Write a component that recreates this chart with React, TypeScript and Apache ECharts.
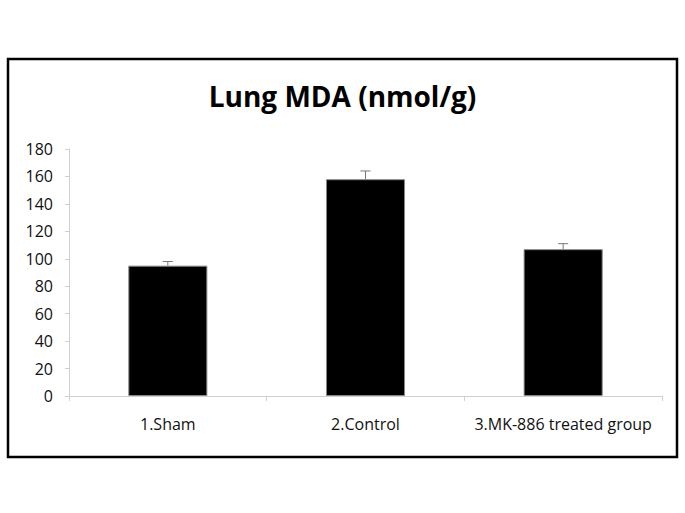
import React, { useEffect, useRef } from "react";
import * as echarts from "echarts";

const categories = ["1.Sham", "2.Control", "3.MK-886 treated group"];
const means = [95, 158, 107];
const upperErrors = [98, 164, 111];
const yTicks = { min: 0, max: 180, interval: 20 };

export default function App() {
  const ref = useRef<HTMLDivElement>(null);
  useEffect(() => {
    if (!ref.current) return;
    const chart = echarts.init(ref.current, null, { renderer: "svg" });
    const font = "Open Sans";
    chart.setOption({
      animation: false,
      backgroundColor: "#ffffff",
      title: {
        text: "Lung MDA (nmol/g)",
        left: "center",
        top: 77,
        textStyle: { fontFamily: font, fontWeight: "bold", fontSize: 28, color: "#000" },
      },
      graphic: [
        {
          type: "rect",
          shape: { x: 8, y: 59, width: 669, height: 398 },
          style: { fill: "none", stroke: "#000", lineWidth: 2.5 },
          z: 10,
        },
      ],
      grid: { left: 69, right: 23, top: 149, bottom: 117 },
      xAxis: {
        type: "category",
        data: categories,
        axisLine: { show: true, lineStyle: { color: "#d0d0d0", width: 1 } },
        axisTick: { show: true, length: 5, lineStyle: { color: "#d0d0d0" } },
        axisLabel: { interval: 0, fontFamily: font, fontSize: 16, color: "#111", margin: 20 },
      },
      yAxis: {
        type: "value",
        min: yTicks.min,
        max: yTicks.max,
        interval: yTicks.interval,
        axisLine: { show: true, lineStyle: { color: "#d0d0d0", width: 1 } },
        axisTick: { show: true, length: 4, lineStyle: { color: "#d0d0d0" } },
        splitLine: { show: false },
        axisLabel: { fontFamily: font, fontSize: 16, color: "#111", margin: 16 },
      },
      series: [
        {
          type: "bar",
          data: means,
          barWidth: "40%",
          itemStyle: { color: "#000", borderColor: "#888", borderWidth: 1 },
        },
        {
          type: "custom",
          data: means.map((m, i) => [i, m, upperErrors[i]]),
          renderItem: (params: any, api: any) => {
            const x = api.value(0);
            const p0 = api.coord([x, api.value(1)]);
            const p1 = api.coord([x, api.value(2)]);
            const w = 5;
            return {
              type: "group",
              children: [
                { type: "line", shape: { x1: p0[0], y1: p0[1], x2: p1[0], y2: p1[1] }, style: { stroke: "#777", lineWidth: 1 } },
                { type: "line", shape: { x1: p1[0] - w, y1: p1[1], x2: p1[0] + w, y2: p1[1] }, style: { stroke: "#777", lineWidth: 1 } },
              ],
            };
          },
          z: 5,
        },
      ],
    });
    return () => chart.dispose();
  }, []);
  return <div ref={ref} style={{ position: "fixed", left: 0, top: 0, width: 685, height: 513 }} />;
}
